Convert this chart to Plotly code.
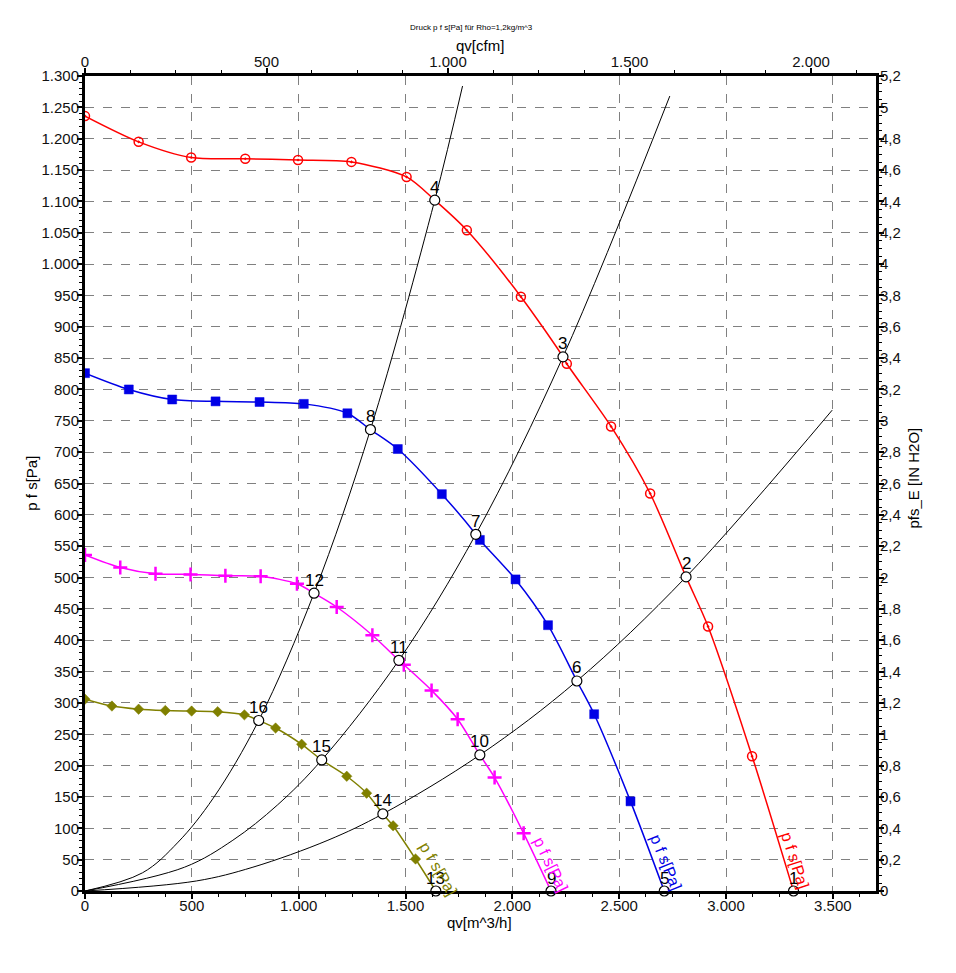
import plotly.graph_objects as go

# ---------------- data ----------------
# fan curves: marker points (qv [m^3/h], p_fs [Pa])
red_q = [0, 251, 497, 750, 997, 1247, 1505, 1787, 2040, 2255, 2462, 2645, 2916, 3122]
red_p = [1236, 1195, 1170, 1168, 1166, 1163, 1139, 1054, 948, 841, 741, 634, 422, 215]

blue_q = [0, 205, 408, 611, 817, 1024, 1228, 1464, 1670, 1848, 2015, 2167, 2383, 2553]
blue_p = [826, 800, 784, 781, 780, 777, 762, 705, 633, 560, 497, 424, 282, 143]

mag_q = [0, 165, 330, 494, 657, 822, 992, 1178, 1345, 1492, 1622, 1744, 1917, 2053]
mag_p = [536, 516, 506, 505, 503, 502, 490, 453, 408, 361, 320, 274, 181, 92]

oli_q = [0, 126, 251, 376, 499, 621, 746, 892, 1014, 1225, 1318, 1442, 1547]
oli_p = [306, 295, 290, 288, 287, 286, 281, 260, 234, 183, 156, 104, 51]

# operating points (number, qv, p, curve)
op_num = ["1", "2", "3", "4", "5", "6", "7", "8", "9", "10", "11", "12", "13", "14", "15", "16"]
op_q = [3316, 2813, 2237, 1637, 2711, 2302, 1829, 1336, 2181, 1848, 1469, 1072, 1642, 1394, 1108, 813]
op_p = [0, 501, 852, 1102, 0, 335, 569, 736, 0, 217, 368, 475, 0, 123, 209, 272]
op_curve = ["red"] * 4 + ["blue"] * 4 + ["mag"] * 4 + ["oli"] * 4

# system curves
sysA_q = [0, 269, 436, 600, 813, 1072, 1336, 1637, 1767]
sysA_p = [0, 29, 78, 148, 272, 475, 736, 1102, 1284]
sysB_q = [0, 466, 692, 900, 1108, 1469, 1829, 2237, 2737]
sysB_p = [0, 38, 81, 137, 209, 368, 569, 852, 1268]
sysC_q = [0, 521, 786, 1137, 1394, 1848, 2302, 2813, 3497]
sysC_p = [0, 16, 38, 81, 123, 217, 335, 501, 767]

# axis ticks
x_ticks = [0, 500, 1000, 1500, 2000, 2500, 3000, 3500]
x_labels = ["0", "500", "1.000", "1.500", "2.000", "2.500", "3.000", "3.500"]
cfm_ticks = [0, 500, 1000, 1500, 2000]
cfm_labels = ["0", "500", "1.000", "1.500", "2.000"]
y_ticks = list(range(0, 1301, 50))
y_labels = [("{:,}".format(v)).replace(",", ".") for v in y_ticks]
inh2o_ticks = [round(i * 0.2, 1) for i in range(27)]
inh2o_labels = [("{:g}".format(v)).replace(".", ",") for v in inh2o_ticks]

curve_label = "p f s[Pa]"
label_q = [3324, 2720, 2181, 1656]
label_p = [49, 46, 43, 35]
label_angle = [72, 68, 64, 60]

X_MAX = 3702
CFM = 1.699

colors = {"red": "#ff0000", "blue": "#0000e6", "mag": "#ff00ff", "oli": "#808000"}
symbols = {"red": "circle-open-dot", "blue": "square", "mag": "cross-thin", "oli": "diamond"}
msize = {"red": 9, "blue": 9, "mag": 10, "oli": 8}

FONT = "Liberation Sans, Arial"

fig = go.Figure()

# system curves
for q, p in [(sysA_q, sysA_p), (sysB_q, sysB_p), (sysC_q, sysC_p)]:
    fig.add_trace(go.Scatter(x=q, y=p, mode="lines", line=dict(color="black", width=1, shape="spline"),
                             hoverinfo="skip"))

curves = {"red": (red_q, red_p), "blue": (blue_q, blue_p), "mag": (mag_q, mag_p), "oli": (oli_q, oli_p)}
for key, (q, p) in curves.items():
    pts = list(zip(q, p)) + [(oq, opv) for oq, opv, c in zip(op_q, op_p, op_curve) if c == key]
    pts.sort()
    lx = [a for a, b in pts]
    ly = [b for a, b in pts]
    fig.add_trace(go.Scatter(x=lx, y=ly, mode="lines",
                             line=dict(color=colors[key], width=1.5, shape="spline", smoothing=0.8),
                             hoverinfo="skip"))
    lw = {"red": 1.5, "blue": 0.5, "mag": 2.5, "oli": 0.5}[key]
    mk = dict(symbol=symbols[key], size=msize[key], color=colors[key],
              line=dict(color=colors[key], width=lw))
    fig.add_trace(go.Scatter(x=q, y=p, mode="markers", marker=mk, hoverinfo="skip"))

# operating points
fig.add_trace(go.Scatter(x=op_q, y=op_p, mode="markers",
                         marker=dict(symbol="circle", size=10, color="white", line=dict(color="black", width=1.2)),
                         cliponaxis=False, hoverinfo="skip"))
for n, q, p in zip(op_num, op_q, op_p):
    fig.add_annotation(x=q, y=p, xref="x", yref="y", text=n, showarrow=False, yshift=13,
                       font=dict(family=FONT, size=17, color="black"), xanchor="center", yanchor="middle")

# dummy traces for secondary axes
fig.add_trace(go.Scatter(x=[0], y=[0], xaxis="x2", yaxis="y", mode="markers", marker=dict(opacity=0),
                         hoverinfo="skip"))
fig.add_trace(go.Scatter(x=[0], y=[0], xaxis="x", yaxis="y2", mode="markers", marker=dict(opacity=0),
                         hoverinfo="skip"))

# curve labels
for key, q, p, a in zip(["red", "blue", "mag", "oli"], label_q, label_p, label_angle):
    fig.add_annotation(x=q, y=p, xref="x", yref="y", text=curve_label, textangle=a, showarrow=False,
                       font=dict(family=FONT, size=16, color=colors[key]),
                       xanchor="center", yanchor="middle")

tickfont = dict(family=FONT, size=15, color="#111")
axline = dict(showline=True, linecolor="black", linewidth=3, ticks="outside", ticklen=5, tickwidth=2,
              tickcolor="black", zeroline=False, tickfont=tickfont)

fig.update_layout(
    width=956, height=973, autosize=False,
    margin=dict(l=85, r=80, t=76, b=82),
    paper_bgcolor="white", plot_bgcolor="white",
    showlegend=False, hovermode=False,
    font=dict(family=FONT, color="black"),
    xaxis=dict(range=[0, X_MAX], tickmode="array", tickvals=x_ticks, ticktext=x_labels,
               showgrid=True, gridcolor="#808080", griddash="dash", gridwidth=1, ticklabelstandoff=-6,
               minor=dict(tickmode="linear", tick0=0, dtick=125, ticklen=3, tickcolor="black",
                          tickwidth=1, ticks="outside", showgrid=False),
               **axline),
    xaxis2=dict(range=[0, X_MAX / CFM], overlaying="x", side="top", tickmode="array",
                tickvals=cfm_ticks, ticktext=cfm_labels, showgrid=False, ticklabelstandoff=-5,
                minor=dict(tickmode="linear", tick0=0, dtick=125, ticklen=3, tickcolor="black",
                           tickwidth=1, ticks="outside", showgrid=False),
                **axline),
    yaxis=dict(range=[0, 1300], tickmode="array", tickvals=y_ticks, ticktext=y_labels,
               showgrid=True, gridcolor="#808080", griddash="dash", gridwidth=1, ticklabelstandoff=-5,
               minor=dict(tickmode="linear", tick0=0, dtick=10, ticklen=3, tickcolor="black",
                          tickwidth=1, ticks="outside", showgrid=False),
               **axline),
    yaxis2=dict(range=[0, 5.2], overlaying="y", side="right", tickmode="array",
                tickvals=inh2o_ticks, ticktext=inh2o_labels, showgrid=False, ticklabelstandoff=-7,
                minor=dict(tickmode="linear", tick0=0, dtick=0.05, ticklen=3, tickcolor="black",
                           tickwidth=1, ticks="outside", showgrid=False),
                **axline),
)

def px_x(px):
    return (px - 85.5) / 790.2

def px_y(py):
    return (891 - py) / 815.5

titles = [
    ("Druck p f s[Pa] für Rho=1,2kg/m^3", 472, 27, 8, 0),
    ("qv[cfm]", 480, 45, 15, 0),
    ("qv[m^3/h]", 480, 923, 15, 0),
    ("p f s[Pa]", 32, 483, 15, -90),
    ("pfs_E [IN H2O]", 913, 478, 15, -90),
]
for t, x, y, s, ang in titles:
    fig.add_annotation(x=px_x(x), y=px_y(y), xref="paper", yref="paper", text=t, showarrow=False,
                       textangle=ang, font=dict(family=FONT, size=s, color="black"),
                       xanchor="center", yanchor="middle")

fig.write_html("out.html")
